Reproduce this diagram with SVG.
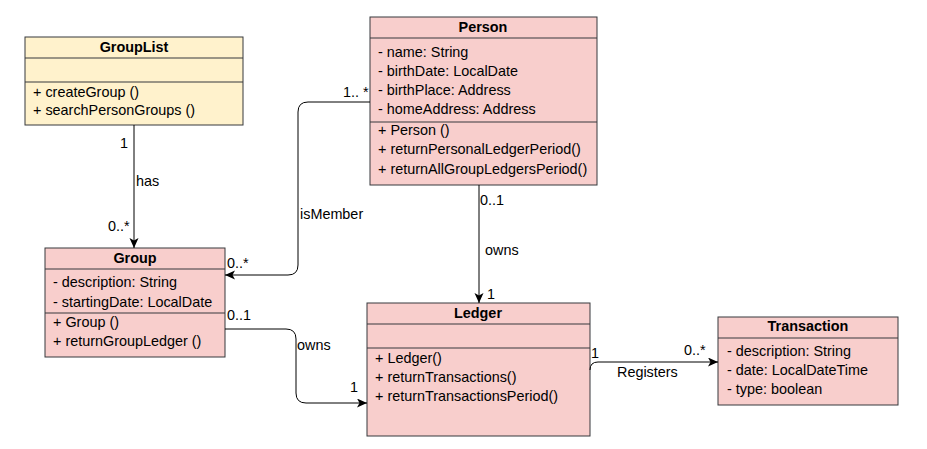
<svg xmlns="http://www.w3.org/2000/svg" width="927" height="449" viewBox="0 0 927 449">
<style>
text{font-family:"Liberation Sans",Arial,sans-serif;font-size:14.4px;fill:#000}
.h{font-weight:bold;text-anchor:middle}
.box{fill:#f8cecc;stroke:#36393d;stroke-width:1}
.yel{fill:#fff2cc;stroke:#36393d;stroke-width:1}
.sep{stroke:#36393d;stroke-width:1}
.c{fill:none;stroke:#000;stroke-width:1}
</style>
<defs>
<marker id="arr" markerUnits="userSpaceOnUse" markerWidth="12" markerHeight="10" refX="10" refY="4.5" orient="auto">
<path d="M0,0 L10,4.5 L0,9 L2.5,4.5 z" fill="#000"/>
</marker>
</defs>
<rect width="927" height="449" fill="#fff"/>
<g id="GroupList">
<rect class="yel" x="25" y="37" width="218" height="88"/>
<line class="sep" x1="25" y1="58" x2="243" y2="58"/>
<line class="sep" x1="25" y1="82" x2="243" y2="82"/>
<text class="h" x="134" y="52">GroupList</text>
<text x="33" y="97">+ createGroup ()</text>
<text x="33" y="115">+ searchPersonGroups ()</text>
</g>
<g id="Person">
<rect class="box" x="370" y="17" width="227" height="168"/>
<line class="sep" x1="370" y1="38" x2="597" y2="38"/>
<line class="sep" x1="370" y1="122" x2="597" y2="122"/>
<text class="h" x="483" y="32">Person</text>
<text x="378" y="57">- name: String</text>
<text x="378" y="76">- birthDate: LocalDate</text>
<text x="378" y="95">- birthPlace: Address</text>
<text x="378" y="114">- homeAddress: Address</text>
<text x="378" y="135">+ Person ()</text>
<text x="378" y="154">+ returnPersonalLedgerPeriod()</text>
<text x="378" y="174">+ returnAllGroupLedgersPeriod()</text>
</g>
<g id="Group">
<rect class="box" x="45" y="248" width="180" height="109"/>
<line class="sep" x1="45" y1="269" x2="225" y2="269"/>
<line class="sep" x1="45" y1="313" x2="225" y2="313"/>
<text class="h" x="135" y="263">Group</text>
<text x="53" y="287">- description: String</text>
<text x="53" y="307">- startingDate: LocalDate</text>
<text x="53" y="327">+ Group ()</text>
<text x="53" y="346">+ returnGroupLedger ()</text>
</g>
<g id="Ledger">
<rect class="box" x="367" y="303" width="223" height="133"/>
<line class="sep" x1="367" y1="324" x2="590" y2="324"/>
<line class="sep" x1="367" y1="348" x2="590" y2="348"/>
<text class="h" x="478" y="318">Ledger</text>
<text x="375" y="363">+ Ledger()</text>
<text x="375" y="382">+ returnTransactions()</text>
<text x="375" y="401">+ returnTransactionsPeriod()</text>
</g>
<g id="Transaction">
<rect class="box" x="718" y="317" width="180" height="88"/>
<line class="sep" x1="718" y1="338" x2="898" y2="338"/>
<text class="h" x="808" y="331">Transaction</text>
<text x="727" y="356">- description: String</text>
<text x="727" y="375">- date: LocalDateTime</text>
<text x="727" y="394">- type: boolean</text>
</g>
<g id="connectors">
<path class="c" d="M134,125 V248" marker-end="url(#arr)"/>
<path class="c" d="M370,102 H308 Q298,102 298,112 V265 Q298,275 288,275 H225" marker-end="url(#arr)"/>
<path class="c" d="M479,185 V303" marker-end="url(#arr)"/>
<path class="c" d="M225,329 H286 Q296,329 296,339 V393 Q296,403 306,403 H367" marker-end="url(#arr)"/>
<path class="c" d="M590,370 Q590,362 598,362 H718" marker-end="url(#arr)"/>
<text x="120" y="148">1</text>
<text x="136" y="186">has</text>
<text x="108" y="231">0..*</text>
<text x="343" y="97">1.. *</text>
<text x="300" y="219">isMember</text>
<text x="227" y="268">0..*</text>
<text x="480" y="205">0..1</text>
<text x="485" y="255">owns</text>
<text x="487" y="299">1</text>
<text x="227" y="320">0..1</text>
<text x="297" y="350">owns</text>
<text x="350" y="392">1</text>
<text x="591" y="358">1</text>
<text x="684" y="355">0..*</text>
<text x="617" y="377">Registers</text>
</g>
</svg>
